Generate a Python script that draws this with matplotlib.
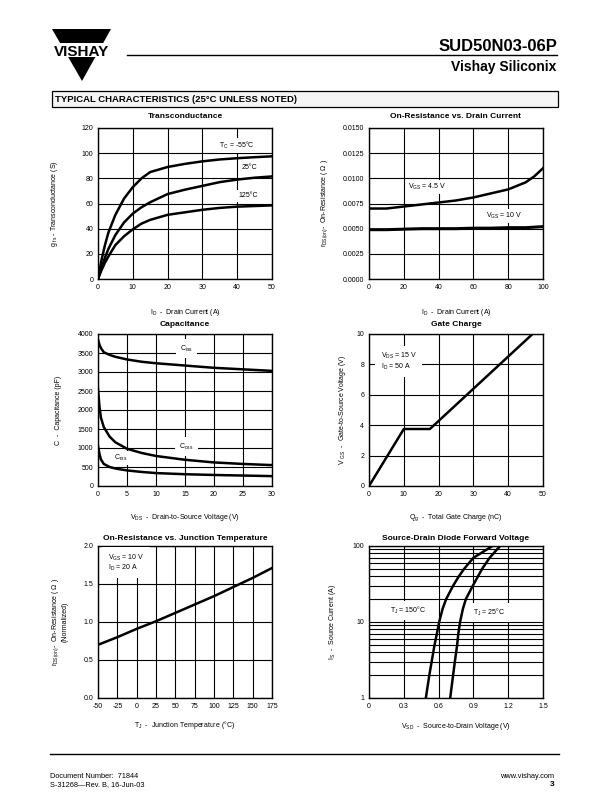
import numpy as np
import matplotlib
matplotlib.use('Agg')
import matplotlib.pyplot as plt
from matplotlib.patches import Polygon, Rectangle
from matplotlib.ticker import FixedLocator, NullFormatter

plt.rcParams['font.family'] = ['Liberation Sans', 'DejaVu Sans']
plt.rcParams['mathtext.fontset'] = 'custom'
plt.rcParams['mathtext.rm'] = 'Liberation Sans'
plt.rcParams['mathtext.it'] = 'Liberation Sans'
plt.rcParams['mathtext.bf'] = 'Liberation Sans:bold'
plt.rcParams['mathtext.default'] = 'regular'

W, H = 612, 792

# Transconductance
gfs_id = [0, 1, 2, 3, 5, 7.5, 10, 12.5, 15, 20, 25, 30, 35, 40, 45, 50]
gfs_m55 = [0, 15, 27, 37, 51, 64, 73, 80, 85, 89, 91.5, 93.5, 95, 96, 96.8, 97.5]
gfs_25 = [0, 9, 17, 24, 35, 45, 52, 57, 61, 67.5, 71, 74, 77, 79, 80.5, 81.5]
gfs_125 = [0, 7, 13, 18, 27, 34, 39.5, 44, 47, 51, 53, 55, 56.5, 57.5, 58, 58.5]

# On-resistance vs drain current
rds_id = [0, 10, 20, 30, 40, 50, 60, 70, 80, 90, 95, 100]
rds_45 = [0.0070, 0.0070, 0.0072, 0.0074, 0.0076, 0.0078, 0.0081, 0.0085, 0.0089, 0.0096, 0.0102, 0.0110]
rds_10 = [0.0049, 0.0049, 0.00495, 0.0050, 0.0050, 0.0050, 0.00505, 0.00505, 0.0051, 0.0051, 0.00515, 0.0052]

# Capacitance
cap_vds = [0, 0.25, 0.5, 1, 2, 3, 5, 7.5, 10, 15, 20, 25, 30]
c_iss = [3850, 3720, 3630, 3520, 3450, 3400, 3330, 3270, 3230, 3170, 3110, 3070, 3030]
c_oss = [2550, 2100, 1800, 1550, 1300, 1150, 980, 870, 790, 690, 620, 580, 550]
c_rss = [1050, 850, 700, 580, 500, 460, 410, 370, 340, 310, 290, 275, 260]

# Gate charge
qg = [0, 10, 17.5, 47]
vgs = [0, 3.75, 3.75, 10]

# On-resistance vs junction temperature
tj = [-50, -25, 0, 25, 50, 75, 100, 125, 150, 175]
rds_norm = [0.70, 0.80, 0.91, 1.01, 1.12, 1.23, 1.34, 1.46, 1.58, 1.71]

# Source-drain diode
is_a = [1, 2, 3, 5, 7, 10, 15, 20, 30, 40, 50, 70, 100]
vsd_150 = [0.49, 0.52, 0.54, 0.565, 0.585, 0.605, 0.635, 0.665, 0.725, 0.775, 0.82, 0.90, 1.065]
vsd_25 = [0.70, 0.725, 0.74, 0.76, 0.77, 0.785, 0.81, 0.835, 0.895, 0.94, 0.975, 1.04, 1.13]

fig = plt.figure(figsize=(W / 100, H / 100), dpi=100)

# page furniture in pixel coordinates
bg = fig.add_axes([0, 0, 1, 1])
bg.set_xlim(0, W)
bg.set_ylim(H, 0)
bg.axis('off')
bg.add_patch(Polygon([(52, 29), (111, 29), (82, 81)], closed=True, fc='black', ec='none'))
bg.add_patch(Rectangle((45, 43), 74, 14, fc='white', ec='none'))
bg.text(82, 55.5, 'VISHAY', ha='center', va='baseline', fontsize=11, fontweight='bold')
bg.plot([127, 557], [54.5, 54.5], color='black', lw=1.0)
bg.text(557, 51, 'SUD50N03-06P', ha='right', va='baseline', fontsize=12, fontweight='bold')
bg.text(556, 71, 'Vishay Siliconix', ha='right', va='baseline', fontsize=10, fontweight='bold')
bg.add_patch(Rectangle((52, 91), 506, 16, fc='#f5f5f5', ec='black', lw=0.9))
bg.text(55, 99.5, 'TYPICAL CHARACTERISTICS (25°C UNLESS NOTED)', ha='left', va='center',
        fontsize=6.8, fontweight='bold')
bg.plot([50, 559], [754, 754], color='black', lw=1.0)
bg.text(50, 776, 'Document Number:  71844', ha='left', va='center', fontsize=5.3)
bg.text(50, 785, 'S-31268—Rev. B, 16-Jun-03', ha='left', va='center', fontsize=5.3)
bg.text(554, 776, 'www.vishay.com', ha='right', va='center', fontsize=5.3)
bg.text(554, 785, '3', ha='right', va='center', fontsize=6, fontweight='bold')


def panel(l, t, r, b):
    return fig.add_axes([l / W, 1 - b / H, (r - l) / W, (b - t) / H])


def style(ax, title, xlab, ylab, ylx, xly, ty, hpx):
    ax.grid(True, which='both', color='black', lw=0.8)
    ax.set_axisbelow(True)
    for s in ax.spines.values():
        s.set_linewidth(1.0)
    ax.tick_params(which='both', length=0, labelsize=5, pad=3.5)
    ax.text(0.5, 1 + ty / hpx, title, transform=ax.transAxes, ha='center', va='center',
            fontsize=6, fontweight='bold')
    ax.set_xlabel(xlab, fontsize=5)
    ax.set_ylabel(ylab, fontsize=5)
    ax.xaxis.set_label_coords(0.5, xly)
    ax.yaxis.set_label_coords(ylx, 0.5)


lbl = dict(fontsize=5, ha='center', va='center',
           bbox=dict(fc='white', ec='none', pad=1.5))
LW = 1.8

# 1 Transconductance
ax = panel(98, 128, 272, 279)
ax.plot(gfs_id, gfs_m55, color='black', lw=LW)
ax.plot(gfs_id, gfs_25, color='black', lw=LW)
ax.plot(gfs_id, gfs_125, color='black', lw=LW)
ax.set_xlim(0, 50)
ax.set_ylim(0, 120)
ax.set_xticks([0, 10, 20, 30, 40, 50])
ax.set_yticks([0, 20, 40, 60, 80, 100, 120])
style(ax, 'Transconductance', r'I$_D$  -  Drain Current (A)',
      r'g $_{fs}$ - Transconductance (S)', -0.218, -0.185, 11, 151)
ax.text(39.8, 106, r'T$_C$ = -55°C', **lbl)
ax.text(43.6, 89, '25°C', **lbl)
ax.text(43.1, 66, '125°C', **lbl)

# 2 On-resistance vs drain current
ax = panel(369, 128, 543, 279)
ax.plot(rds_id, rds_45, color='black', lw=LW)
ax.plot(rds_id, rds_10, color='black', lw=LW + 0.4)
ax.set_xlim(0, 100)
ax.set_ylim(0, 0.015)
ax.set_xticks([0, 20, 40, 60, 80, 100])
ax.set_yticks([0, 0.0025, 0.005, 0.0075, 0.01, 0.0125, 0.015])
ax.set_yticklabels(['0.0000', '0.0025', '0.0050', '0.0075', '0.0100', '0.0125', '0.0150'])
style(ax, 'On-Resistance vs. Drain Current', r'I$_D$  -  Drain Current (A)',
      r'r$_{DS(on)}$-  On-Resistance ( $\Omega$ )', -0.224, -0.185, 11, 151)
ax.text(33.5, 0.00917, r'V$_{GS}$ = 4.5 V', **lbl)
ax.text(77.5, 0.00623, r'V$_{GS}$ = 10 V', **lbl)

# 3 Capacitance
ax = panel(98, 334, 272, 486)
ax.plot(cap_vds, c_iss, color='black', lw=LW)
ax.plot(cap_vds, c_oss, color='black', lw=LW)
ax.plot(cap_vds, c_rss, color='black', lw=LW)
ax.set_xlim(0, 30)
ax.set_ylim(0, 4000)
ax.set_xticks([0, 5, 10, 15, 20, 25, 30])
ax.set_yticks([0, 500, 1000, 1500, 2000, 2500, 3000, 3500, 4000])
style(ax, 'Capacitance', r'V$_{DS}$  -  Drain-to-Source Voltage (V)',
      'C  -  Capacitance (pF)', -0.207, -0.171, 9, 152)
lbl3 = dict(lbl, bbox=dict(fc='white', ec='none', pad=3))
ax.text(15.2, 3620, r'C$_{iss}$', **lbl3)
ax.text(15.3, 1040, r'C$_{oss}$', **lbl3)
ax.text(4.0, 730, r'C$_{rss}$', **lbl)

# 4 Gate charge
ax = panel(369, 334, 543, 486)
ax.plot(qg, vgs, color='black', lw=LW)
ax.set_xlim(0, 50)
ax.set_ylim(0, 10)
ax.set_xticks([0, 10, 20, 30, 40, 50])
ax.set_yticks([0, 2, 4, 6, 8, 10])
style(ax, 'Gate Charge', r'Q$_g$  -  Total Gate Charge (nC)',
      r'V $_{GS}$  -  Gate-to-Source Voltage (V)', -0.12, -0.171, 9, 152)
ax.text(3.4, 8.2, 'V$_{DS}$ = 15 V\nI$_D$ = 50 A', fontsize=5, ha='left', va='center',
        linespacing=1.0, bbox=dict(fc='white', ec='none', pad=4))

# 5 On-resistance vs junction temperature
ax = panel(98, 546, 272, 698)
ax.plot(tj, rds_norm, color='black', lw=LW)
ax.set_xlim(-50, 175)
ax.set_ylim(0, 2.0)
ax.set_xticks([-50, -25, 0, 25, 50, 75, 100, 125, 150, 175])
ax.set_xticklabels(['-50', '-25', '0', '25', '50', '75', '100', '125', '150', '175'])
ax.set_yticks([0, 0.5, 1.0, 1.5, 2.0])
ax.set_yticklabels(['0.0', '0.5', '1.0', '1.5', '2.0'])
style(ax, 'On-Resistance vs. Junction Temperature',
      r'T$_J$  -  Junction Temperature (°C)',
      'r$_{DS(on)}$-  On-Resistance ( $\\Omega$ )\n(Normalized)', -0.17, -0.139, 8, 152)
ax.yaxis.label.set_linespacing(1.1)
ax.text(-37, 1.78, 'V$_{GS}$ = 10 V\nI$_D$ = 20 A', fontsize=5, ha='left', va='center',
        linespacing=1.0, bbox=dict(fc='white', ec='none', pad=4))

# 6 Source-drain diode forward voltage
ax = panel(369, 546, 543, 698)
ax.plot(vsd_150, is_a, color='black', lw=LW)
ax.plot(vsd_25, is_a, color='black', lw=LW)
ax.set_yscale('log')
ax.set_xlim(0, 1.5)
ax.set_ylim(1, 100)
ax.set_xticks([0, 0.3, 0.6, 0.9, 1.2, 1.5])
ax.set_xticklabels(['0', '0.3', '0.6', '0.9', '1.2', '1.5'])
ax.yaxis.set_major_locator(FixedLocator([1, 10, 100]))
ax.set_yticklabels(['1', '10', '100'])
ax.yaxis.set_minor_locator(FixedLocator([2, 3, 4, 5, 6, 7, 8, 9, 20, 30, 40, 50, 60, 70, 80, 90]))
ax.yaxis.set_minor_formatter(NullFormatter())
style(ax, 'Source-Drain Diode Forward Voltage',
      r'V$_{SD}$  -  Source-to-Drain Voltage (V)',
      r'I$_S$  -  Source Current (A)', -0.178, -0.151, 8, 152)
ax.text(0.335, 14.2, r'T$_J$ = 150°C', **lbl3)
ax.text(1.04, 13.3, r'T$_J$ = 25°C', **lbl3)

fig.savefig('out.png', dpi=100)
